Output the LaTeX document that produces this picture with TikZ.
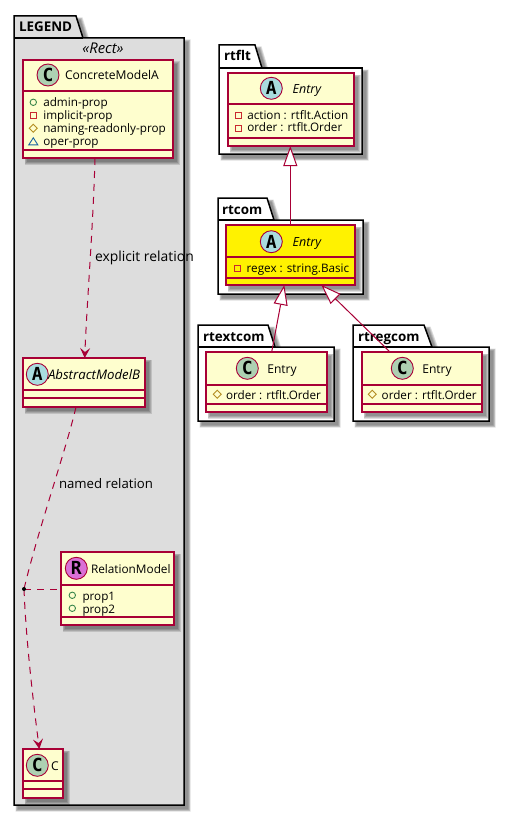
\documentclass[tikz,border=0pt]{standalone}
\usepackage{fontspec}
\setmainfont{Open Sans}
\newfontfamily\circfont{DejaVu Sans Mono}
\usetikzlibrary{fit,arrows.meta,calc}
\definecolor{umlred}{HTML}{A80036}
\definecolor{umlfill}{HTML}{FEFECE}
\definecolor{circA}{HTML}{A9DCDF}
\definecolor{circC}{HTML}{ADD1B2}
\definecolor{circR}{HTML}{DA70D6}
\definecolor{legbg}{HTML}{DDDDDD}
\definecolor{icoG}{HTML}{38864A}
\definecolor{icoR}{HTML}{C82930}
\definecolor{icoY}{HTML}{B38D22}
\definecolor{icoB}{HTML}{1963A0}
\tikzset{
  x=1pt,y=-1pt,
  classshape/.style={draw=umlred,line width=1.2pt,inner sep=0pt,outer sep=0pt},
  sepline/.style={draw=umlred,line width=1.2pt},
  pkgline/.style={draw=black,line width=1.5pt,line join=miter},
  txt/.style={anchor=base west,inner sep=0pt,outer sep=0pt,font=\fontsize{12.1}{14}\selectfont,text=black},
  ital/.style={txt,font=\fontsize{12.5}{14}\selectfont\itshape},
  itall/.style={txt,font=\fontsize{13.2}{14}\selectfont\itshape},
  rectlab/.style={txt,font=\fontsize{14.8}{16}\selectfont\itshape},
  pkgtxt/.style={txt,font=\fontsize{13.4}{15}\selectfont\bfseries},
  attrtxt/.style={txt,font=\fontsize{11.7}{14}\selectfont},
  reltxt/.style={txt,font=\fontsize{13.6}{15}\selectfont},
  circ/.style={circle,draw=umlred,line width=0.9pt,minimum size=22pt,inner sep=0pt,outer sep=0pt,text=black,font=\fontsize{18}{18}\selectfont\circfont\bfseries},
  rel/.style={draw=umlred,line width=1pt},
  dashrel/.style={rel,dash pattern=on 7pt off 6pt},
  vee/.style={-{Stealth[length=10pt,width=10pt,inset=4pt,fill=umlred]}},
  ext/.style={-{Triangle[open,fill=white,length=20pt,width=14pt,line width=1pt]}},
}
\newcommand{\softshadow}[4]{%
  \foreach \d in {2.5,1.8,1.1,0.4}{
    \fill[black,opacity=0.13] (#1+4-\d,#2+4-\d) rectangle (#3+4+\d,#4+4+\d);
  }
}
\newcommand{\classbox}[8]{%
  \softshadow{#2}{#3}{#4}{#5}
  \coordinate (#1-a) at (#2,#3);
  \coordinate (#1-b) at (#4,#5);
  \node[classshape,fill=#8,fit=(#1-a)(#1-b)] (#1) {};
  \draw[sepline] (#2,#6) -- (#4,#6);
  \draw[sepline] (#2,#7) -- (#4,#7);
}
\newcommand{\pkgpath}[7]{(#1,#5) -- (#1,#2) -- (#3,#2) -- (#4,#5) -- (#6,#5) -- (#6,#7) -- (#1,#7) -- cycle}
\newcommand{\package}[8]{%
  \foreach \d in {2.5,1.8,1.1,0.4}{
    \fill[black,opacity=0.13] \pkgpath{#1+4-\d}{#2+4-\d}{#3+4+\d}{#4+4+\d}{#5+4-\d}{#6+4+\d}{#7+4+\d};
  }
  \path[pkgline,fill=#8] \pkgpath{#1}{#2}{#3}{#4}{#5}{#6}{#7};
  \draw[pkgline] (#1,#5) -- (#4,#5);
}
\newcommand{\icoPub}[2]{\draw[icoG,line width=.9pt] (#1,#2) circle (3.2pt);}
\newcommand{\icoPriv}[2]{\draw[icoR,line width=.9pt] (#1-3,#2-3) rectangle (#1+3,#2+3);}
\newcommand{\icoProt}[2]{\draw[icoY,line width=.9pt] (#1-4,#2) -- (#1,#2-4) -- (#1+4,#2) -- (#1,#2+4) -- cycle;}
\newcommand{\icoPack}[2]{\draw[icoB,line width=.9pt] (#1-4.5,#2+3.5) -- (#1,#2-3.5) -- (#1+4.5,#2+3.5) -- cycle;}
\begin{document}
\begin{tikzpicture}
\useasboundingbox (0,0) rectangle (510,816);
\fill[white] (0,0) rectangle (510,816);

% LEGEND
\package{14}{16}{76}{83}{38}{184}{805}{legbg}
\node[pkgtxt] (legendlabel) at (19,32) {LEGEND};
\node[rectlab,anchor=base] (rectlabel) at (103,54) {«Rect»};

\classbox{cma}{23}{60}{173}{158}{91}{150}{umlfill}
\node[circ,fill=circC] (cmac) at (48,75) {C};
\node[txt] (cmat) at (65,79.5) {ConcreteModelA};
\icoPub{33.3}{102.3}  \node[attrtxt] (cma1) at (43.3,106) {admin-prop};
\icoPriv{33.3}{115.3} \node[attrtxt] (cma2) at (43.3,119) {implicit-prop};
\icoProt{33.3}{128.3} \node[attrtxt] (cma3) at (43.3,132) {naming-readonly-prop};
\icoPack{33.3}{141.3} \node[attrtxt] (cma4) at (43.3,145) {oper-prop};

\classbox{amb}{23}{358}{145}{407}{390}{398}{umlfill}
\node[circ,fill=circA] (ambc) at (37.3,374.3) {A};
\node[itall] (ambt) at (48,379) {AbstractModelB};

\classbox{rm}{61}{552}{174}{625}{585}{617}{umlfill}
\node[circ,fill=circR] (rmc) at (76.3,568.3) {R};
\node[txt,font=\fontsize{11.8}{14}\selectfont] (rmt) at (91,573) {RelationModel};
\icoPub{72.3}{595.3} \node[attrtxt] (rm1) at (82.5,600) {prop1};
\icoPub{72.3}{608.3} \node[attrtxt] (rm2) at (82.5,613) {prop2};

\classbox{cc}{23}{749}{63}{798}{781}{789}{umlfill}
\node[circ,fill=circC] (ccc) at (37.3,765.3) {C};
\node[txt] (cct) at (51,770) {C};

\coordinate (assoc) at (24,589);

\draw[dashrel,vee] ([xshift=72pt]cma.south west) .. controls (93,230) and (87,300) .. ([xshift=61.7pt]amb.north west);
\draw[dashrel] ([xshift=53pt]amb.south west) .. controls (66,450) and (38,530) .. (assoc);
\draw[dashrel,vee] (assoc) .. controls (26,640) and (33,700) .. ([xshift=16.3pt]cc.north west);
\draw[dashrel] (assoc) -- (rm.west |- assoc);
\fill[black] (assoc) circle (2pt);
\node[reltxt,font=\fontsize{13.9}{15}\selectfont] (expl) at (95,261) {explicit relation};
\node[reltxt,font=\fontsize{13.2}{15}\selectfont] (named) at (59,488) {named relation};

% rtflt
\package{219}{45}{255}{262}{68}{362}{154}{white}
\node[pkgtxt] (rtfltlabel) at (224,60.7) {rtflt};
\classbox{ef}{228}{73}{354}{146}{104}{138}{umlfill}
\node[circ,fill=circA] (efc) at (271.3,88.3) {A};
\node[ital] (eft) at (292.7,93) {Entry};
\icoPriv{238.3}{115.3} \node[attrtxt] (ef1) at (247.3,119) {action : rtflt.Action};
\icoPriv{238.3}{128}   \node[attrtxt] (ef2) at (247.3,131.7) {order : rtflt.Order};

% rtcom
\package{218}{198}{267}{274}{220}{363}{294}{white}
\node[pkgtxt] (rtcomlabel) at (222,214) {rtcom};
\classbox{ec}{226}{225}{355}{285}{257}{278}{yellow}
\node[circ,fill=circA] (ecc) at (271.3,241.7) {A};
\node[ital] (ect) at (292.7,246.3) {Entry};
\icoPriv{237.3}{268.3} \node[attrtxt] (ec1) at (246.7,272) {regex : string.Basic};

% rtextcom
\package{198}{325}{268}{275}{347}{334}{421}{white}
\node[pkgtxt] (rtextlabel) at (203,341) {rtextcom};
\classbox{ex}{206}{352}{327}{412}{385}{404}{umlfill}
\node[circ,fill=circC] (exc) at (247.3,368.3) {C};
\node[txt] (ext) at (267.3,373) {Entry};
\icoProt{217.3}{394.3} \node[attrtxt] (ex1) at (226,399) {order : rtflt.Order};

% rtregcom
\package{353}{325}{424}{432}{347}{489}{421}{white}
\node[pkgtxt] (rtreglabel) at (358,341) {rtregcom};
\classbox{er}{362}{352}{482}{412}{385}{404}{umlfill}
\node[circ,fill=circC] (erc) at (402.3,368.3) {C};
\node[txt] (ert) at (422.3,373) {Entry};
\icoProt{372.3}{394.3} \node[attrtxt] (er1) at (381.7,399) {order : rtflt.Order};

% generalisations
\draw[rel,ext] ([xshift=64.3pt]ec.north west) -- ([xshift=62.3pt]ef.south west);
\draw[rel,ext] ([xshift=65.7pt]ex.north west) -- ([xshift=58.3pt]ec.south west);
\draw[rel,ext] ([xshift=28pt]er.north west) -- ([xshift=95.3pt]ec.south west);
\end{tikzpicture}
\end{document}
